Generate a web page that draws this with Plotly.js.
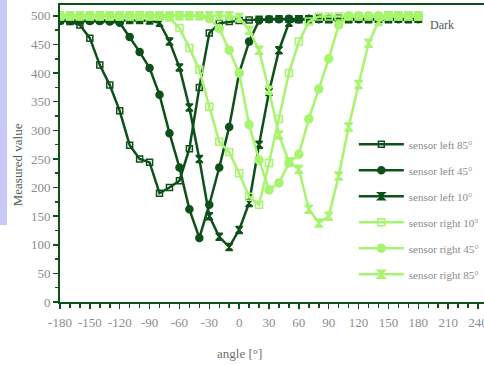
<!DOCTYPE html>
<html>
<head>
<meta charset="utf-8">
<script src="https://cdn.plot.ly/plotly-3.0.1.min.js"></script>
<style>
html,body{margin:0;padding:0;background:#fff;}
#chart{width:484px;height:365px;}
</style>
</head>
<body>
<div id="chart"></div>
<script>
const angles = [-180,-170,-160,-150,-140,-130,-120,-110,-100,-90,-80,-70,-60,-50,-40,-30,-20,-10,0,10,20,30,40,50,60,70,80,90,100,110,120,130,140,150,160,170,180];

const left85  = [492,490,484,461,414,379,334,274,250,244,190,200,212,268,375,470,487,490,492,493,494,494,495,494,495,494,495,494,495,494,495,494,494,495,494,495,494];
const left45  = [491,491,491,491,491,490,488,463,437,409,362,295,235,162,112,170,235,306,400,455,492,494,494,495,494,495,494,495,494,495,494,495,494,495,494,495,494];
const left10  = [493,493,493,493,493,493,493,493,493,492,488,455,410,340,250,150,114,96,126,173,275,367,440,488,494,494,495,494,495,494,495,494,495,494,495,494,495];
const right10 = [499,499,499,499,499,499,499,499,499,499,499,497,479,444,406,341,280,262,225,184,170,243,320,400,455,490,499,499,499,499,499,499,499,499,499,499,499];
const right45 = [500,500,500,500,500,500,500,500,500,500,500,500,500,500,500,495,478,440,400,310,248,196,208,243,258,320,372,425,484,500,500,500,500,500,500,500,500];
const right85 = [500,500,500,500,500,500,500,500,500,500,500,500,500,500,500,500,500,500,497,475,440,370,292,245,232,162,138,150,220,306,380,452,490,500,500,500,500];

const seriesNames = ['sensor left 85°','sensor left 45°','sensor left 10°','sensor right 10°','sensor right 45°','sensor right 85°'];
const seriesValues = [left85, left45, left10, right10, right45, right85];

const xTickVals = [-180,-150,-120,-90,-60,-30,0,30,60,90,120,150,180,210,240];
const xTickText = ['-180','-150','-120','-90','-60','-30','0','30','60','90','120','150','180','210','240'];
const yTickVals = [0,50,100,150,200,250,300,350,400,450,500];

const DARK = '#0d5019';
const LIGHT = '#a7f46e';
const styles = [
  {color: DARK, symbol: 'square-open', size: 6},
  {color: DARK, symbol: 'circle', size: 7},
  {color: DARK, symbol: 'hourglass', size: 7},
  {color: LIGHT, symbol: 'square-open', size: 7},
  {color: LIGHT, symbol: 'circle', size: 8},
  {color: LIGHT, symbol: 'hourglass', size: 8}
];

const traces = seriesValues.map((vals, i) => ({
  type: 'scatter',
  mode: 'lines+markers',
  x: angles,
  y: vals,
  name: seriesNames[i],
  legendgroup: 'g' + i,
  line: {color: styles[i].color, width: 2.5},
  marker: {color: styles[i].color, symbol: styles[i].symbol, size: styles[i].size,
           line: {color: styles[i].color, width: 1.5}}
}));

const serif = 'Liberation Serif, Times New Roman, serif';

const layout = {
  width: 484, height: 365,
  margin: {l: 60, r: 0, t: 5, b: 63},
  paper_bgcolor: '#ffffff',
  plot_bgcolor: '#ffffff',
  showlegend: true,
  legend: {
    x: 0.693, y: 0.58, xanchor: 'left', yanchor: 'top',
    bgcolor: 'rgba(0,0,0,0)',
    font: {family: serif, size: 11, color: '#8a8a8a'},
    itemwidth: 45,
    tracegroupgap: 7,
    traceorder: 'grouped'
  },
  xaxis: {
    range: [-180, 246],
    tickvals: xTickVals,
    ticktext: xTickText,
    ticks: 'outside', ticklen: 5, tickwidth: 1.5, tickcolor: DARK,
    minor: {dtick: 10, tick0: 0, ticks: 'outside', ticklen: 4, tickwidth: 1.5, tickcolor: DARK},
    showline: true, linecolor: DARK, linewidth: 2, mirror: true,
    showgrid: false, zeroline: false,
    tickfont: {family: serif, size: 13, color: '#8c8c8c'},
    ticklabelstandoff: 2,
    ticklabeloverflow: 'allow'
  },
  yaxis: {
    range: [0, 519],
    tickvals: yTickVals,
    ticks: 'outside', ticklen: 5, tickwidth: 1.5, tickcolor: DARK,
    minor: {dtick: 25, tick0: 0, ticks: 'outside', ticklen: 3, tickwidth: 1.5, tickcolor: DARK},
    showline: true, linecolor: DARK, linewidth: 2,
    showgrid: false, zeroline: false,
    tickfont: {family: serif, size: 13, color: '#8c8c8c'}
  },
  shapes: [
    {type: 'rect', xref: 'paper', yref: 'paper', x0: -0.1415, x1: -0.125, y0: 0.259, y1: 1.02,
     fillcolor: '#c9c9f7', line: {width: 0}, layer: 'below'}
  ],
  annotations: [
    {text: 'Measured value', xref: 'paper', yref: 'paper', x: -0.101, y: 0.461,
     xanchor: 'center', yanchor: 'middle',
     textangle: -90, showarrow: false, font: {family: serif, size: 13, color: '#4d5a4d'}},
    {text: 'angle [°]', xref: 'x', yref: 'paper', x: 0, y: -0.172,
     xanchor: 'center', yanchor: 'middle',
     showarrow: false, font: {family: serif, size: 13, color: '#6f6f6f'}},
    {text: 'Dark', xref: 'paper', yref: 'paper', x: (442-60)/424, y: (302-25)/297,
     xanchor: 'center', yanchor: 'middle',
     showarrow: false, font: {family: serif, size: 12, color: '#555555'}}
  ]
};

Plotly.newPlot('chart', traces, layout, {displayModeBar: false, staticPlot: true});
</script>
</body>
</html>
